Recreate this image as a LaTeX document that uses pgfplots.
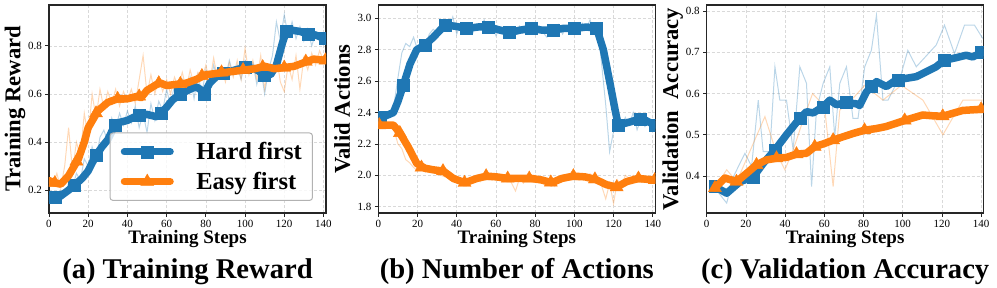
\documentclass[border=0pt]{standalone}
\usepackage{fontspec}
\setmainfont{Liberation Serif}
\usepackage{pgfplots}
\pgfplotsset{compat=1.18}
\definecolor{tblue}{HTML}{1F77B4}
\definecolor{torange}{HTML}{FF7F0E}
\pgfplotsset{
 myax/.style={
  width=277pt, height=208pt, scale only axis,
  anchor=south west,
  xmin=0, xmax=141.3,
  xtick={0,20,...,140},
  axis line style={black!85, line width=1.1pt},
  tick align=outside, major tick length=3.5pt,
  tick style={black!85, line width=0.8pt},
  xtick pos=left, ytick pos=left,
  grid=major, major grid style={densely dashed, black!15, line width=0.6pt},
  ticklabel style={font=\fontsize{11}{11}\selectfont},
  /pgf/number format/assume math mode=true,
  yticklabel style={/pgf/number format/.cd, fixed, fixed zerofill, precision=1},
  xlabel={Training Steps},
  xlabel style={font=\bfseries\fontsize{19}{19}\selectfont, at={(axis description cs:0.5,-0.149)}, anchor=base},
  ylabel style={font=\bfseries\fontsize{22.6}{22.6}\selectfont, at={(axis description cs:-0.103,0.5)}, anchor=base},
  clip marker paths=true,
 },
 raw/.style={line width=1pt, opacity=0.3, no marks},
 smo/.style={line width=7.5pt, line join=round, line cap=round, no marks},
 bmk/.style={only marks, mark=square*, mark size=6pt, tblue, mark options={line width=0.4pt}},
 omk/.style={only marks, mark=triangle*, mark size=7.5pt, torange, mark options={line width=0.4pt}},
}
\begin{document}
\begin{tikzpicture}
\useasboundingbox (0,0) rectangle (997pt,-287pt);
% ---------------- (a) ----------------
\begin{axis}[myax, name=a, at={(49pt,-213pt)},
  ymin=0.105, ymax=0.97, ytick={0.2,0.4,0.6,0.8},
  ylabel={Training Reward},
  legend style={at={(rel axis cs:0.953,0.058)}, anchor=south east, draw=black!30, line width=1pt, rounded corners=3pt, fill=white, fill opacity=0.8, draw opacity=1, text opacity=1, font=\bfseries\fontsize{24.5}{24.5}\selectfont, nodes={inner sep=0pt}, inner xsep=10.75pt, inner ysep=9.5pt, column sep=22.5pt, row sep=11pt},
  legend cell align=left,
  legend image code/.code={\draw[mark repeat=2,mark phase=2,#1] plot coordinates {(0pt,0pt)(23pt,0pt)(46pt,0pt)};},
]
\addlegendimage{tblue, line width=7pt, line cap=round, mark=square*, mark size=6pt, mark options={line width=0.4pt, fill=tblue, draw=tblue, fill opacity=1}}
\addlegendentry{Hard first}
\addlegendimage{torange, line width=7pt, line cap=round, mark=triangle*, mark size=7.5pt, mark options={line width=0.4pt, fill=torange, draw=torange, fill opacity=1}}
\addlegendentry{Easy first}
\addplot[raw, tblue, forget plot] coordinates {(0,0.16)(2,0.19)(4,0.15)(6,0.20)(8,0.18)(10,0.23)(12,0.21)(14,0.27)(16,0.24)(18,0.33)(20,0.30)(22,0.38)(24,0.33)(26,0.42)(28,0.45)(30,0.40)(32,0.50)(34,0.46)(36,0.52)(38,0.47)(40,0.53)(42,0.48)(44,0.55)(46,0.46)(48,0.52)(50,0.44)(52,0.56)(54,0.49)(56,0.57)(58,0.53)(60,0.62)(62,0.55)(64,0.64)(66,0.58)(68,0.66)(70,0.61)(72,0.67)(74,0.58)(76,0.68)(78,0.60)(80,0.70)(82,0.63)(84,0.72)(86,0.66)(88,0.71)(90,0.67)(92,0.74)(94,0.68)(96,0.72)(98,0.66)(100,0.74)(102,0.69)(104,0.73)(106,0.64)(108,0.71)(110,0.60)(112,0.70)(114,0.76)(116,0.90)(118,0.82)(120,0.93)(122,0.84)(124,0.90)(126,0.83)(128,0.88)(130,0.82)(132,0.87)(134,0.80)(136,0.85)(138,0.82)(140,0.84)};
\addplot[raw, torange, forget plot] coordinates {(0,0.25)(2,0.22)(4,0.27)(6,0.21)(8,0.30)(10,0.46)(12,0.28)(14,0.40)(16,0.34)(18,0.52)(20,0.42)(22,0.60)(24,0.50)(26,0.62)(28,0.54)(30,0.61)(32,0.56)(34,0.62)(36,0.55)(38,0.61)(40,0.57)(42,0.62)(44,0.56)(46,0.66)(48,0.76)(50,0.60)(52,0.68)(54,0.60)(56,0.67)(58,0.61)(60,0.66)(62,0.60)(64,0.67)(66,0.63)(68,0.69)(70,0.62)(72,0.70)(74,0.64)(76,0.69)(78,0.66)(80,0.72)(82,0.65)(84,0.75)(86,0.66)(88,0.71)(90,0.65)(92,0.73)(94,0.67)(96,0.74)(98,0.66)(100,0.79)(102,0.68)(104,0.74)(106,0.66)(108,0.76)(110,0.62)(112,0.72)(114,0.68)(116,0.76)(118,0.65)(120,0.61)(122,0.72)(124,0.66)(126,0.76)(128,0.62)(130,0.75)(132,0.70)(134,0.77)(136,0.72)(138,0.78)(140,0.74)};
\addplot[smo, tblue, forget plot] coordinates {(0,0.165)(5,0.17)(10,0.20)(13,0.22)(17,0.25)(20,0.28)(24,0.345)(27,0.38)(30,0.41)(33,0.46)(35,0.48)(40,0.49)(45,0.51)(50,0.515)(55,0.505)(57,0.52)(60,0.545)(63,0.575)(67,0.60)(72,0.62)(75,0.63)(77,0.62)(79,0.60)(82,0.645)(85,0.67)(89,0.685)(95,0.70)(100,0.71)(105,0.705)(108,0.69)(110,0.68)(113,0.68)(116,0.72)(119,0.81)(121,0.86)(124,0.865)(128,0.86)(132,0.85)(136,0.845)(141,0.83)};
\addplot[bmk, forget plot] coordinates {(3,0.17)(13,0.22)(24,0.345)(34,0.47)(46,0.51)(57,0.52)(67,0.60)(79,0.60)(89,0.685)(100,0.71)(110,0.68)(121,0.86)(132,0.85)(141,0.83)};
\addplot[smo, torange, forget plot] coordinates {(0,0.24)(3,0.23)(6,0.225)(10,0.26)(15,0.33)(18,0.40)(20,0.46)(25,0.53)(30,0.565)(35,0.58)(40,0.58)(45,0.59)(47,0.585)(50,0.615)(55,0.64)(57,0.645)(60,0.635)(65,0.64)(70,0.645)(75,0.66)(80,0.68)(85,0.685)(90,0.69)(95,0.695)(100,0.70)(105,0.705)(110,0.715)(115,0.705)(120,0.71)(125,0.715)(130,0.73)(135,0.745)(141,0.74)};
\addplot[omk, forget plot] coordinates {(3,0.23)(14,0.32)(24,0.52)(35,0.58)(46,0.59)(56,0.645)(67,0.642)(78,0.675)(88,0.69)(99,0.70)(109,0.712)(120,0.71)(131,0.735)(141,0.74)};
\end{axis}
\node[font=\bfseries\fontsize{28.6}{28.6}\selectfont, anchor=base] at ([yshift=-65pt]a.south) {(a) Training Reward};
% ---------------- (b) ----------------
\begin{axis}[myax, name=b, at={(378.3pt,-213pt)},
  ymin=1.76, ymax=3.085, ytick={1.8,2.0,...,3.0},
  ylabel={Valid Actions},
]
\addplot[raw, tblue] coordinates {(0,2.38)(2,2.36)(4,2.40)(6,2.37)(8,2.45)(10,2.62)(12,2.78)(14,2.84)(16,2.82)(18,2.88)(20,2.80)(22,2.86)(24,2.82)(26,2.90)(28,2.93)(30,2.91)(32,2.97)(34,2.99)(36,2.94)(38,3.01)(40,2.90)(42,2.97)(44,2.92)(46,2.96)(48,2.90)(50,2.96)(52,2.93)(54,2.99)(56,2.92)(58,2.96)(60,2.89)(62,2.94)(64,2.91)(66,2.88)(68,2.93)(70,2.90)(72,2.95)(74,2.91)(76,2.96)(78,2.94)(80,2.90)(82,2.95)(84,2.91)(86,2.88)(88,2.94)(90,2.92)(92,2.96)(94,2.90)(96,2.95)(98,2.93)(100,2.96)(102,2.91)(104,2.97)(106,2.93)(108,2.99)(110,2.92)(112,2.94)(114,2.70)(116,2.45)(118,2.15)(120,2.28)(122,2.33)(124,2.30)(126,2.37)(128,2.32)(130,2.40)(132,2.29)(134,2.36)(136,2.31)(138,2.34)(140,2.30)};
\addplot[raw, torange] coordinates {(0,2.33)(2,2.30)(4,2.34)(6,2.31)(8,2.29)(10,2.20)(12,2.17)(14,2.10)(16,2.08)(18,2.05)(20,2.03)(22,2.05)(24,2.02)(26,2.06)(28,2.03)(30,2.04)(32,2.00)(34,1.99)(36,2.02)(38,1.96)(40,1.98)(42,1.95)(44,1.97)(46,1.94)(48,1.97)(50,1.99)(52,1.96)(54,2.01)(56,1.98)(58,2.00)(60,1.97)(62,2.00)(64,1.96)(66,1.99)(68,1.95)(70,1.90)(72,1.98)(74,1.95)(76,1.99)(78,1.97)(80,2.00)(82,1.96)(84,1.99)(86,1.95)(88,1.97)(90,1.93)(92,1.98)(94,1.96)(96,2.00)(98,1.98)(100,2.01)(102,1.97)(104,2.00)(106,1.98)(108,2.01)(110,1.96)(112,1.99)(114,1.93)(116,1.85)(118,1.95)(120,1.82)(122,1.97)(124,1.93)(126,2.00)(128,1.98)(130,2.00)(132,1.96)(134,1.99)(136,1.97)(138,1.99)(140,1.96)};
\addplot[smo, tblue] coordinates {(0,2.384)(1,2.37)(4,2.38)(7.7,2.40)(10,2.47)(12.8,2.575)(16.2,2.71)(19.6,2.80)(23.8,2.83)(28.1,2.88)(34,2.957)(39.1,2.95)(45.1,2.936)(51,2.945)(56.1,2.945)(62.1,2.925)(67.2,2.91)(72.3,2.925)(78.3,2.936)(83.4,2.925)(89.3,2.925)(94.4,2.936)(100.4,2.936)(106.3,2.945)(111.4,2.936)(114.8,2.80)(118.2,2.586)(120.8,2.416)(122.4,2.32)(128.4,2.34)(134.4,2.363)(141,2.32)};
\addplot[bmk] coordinates {(1,2.37)(12.8,2.575)(23.8,2.83)(34,2.957)(45,2.936)(56,2.945)(67,2.91)(78,2.936)(89,2.925)(100,2.936)(111,2.936)(122.4,2.32)(133.5,2.36)(141,2.32)};
\addplot[smo, torange] coordinates {(0,2.32)(7.7,2.32)(11.1,2.268)(15.3,2.18)(19.6,2.076)(23.8,2.045)(28.1,2.035)(33.2,2.027)(38.3,1.98)(44.2,1.953)(50.2,1.98)(55.3,1.995)(60.4,1.99)(66.3,1.98)(72.3,1.98)(78.3,1.98)(83.4,1.97)(88.5,1.953)(93.6,1.98)(99.5,1.995)(105.5,1.99)(110.6,1.975)(116.5,1.94)(121.6,1.925)(126.7,1.96)(132.7,1.98)(141,1.97)};
\addplot[omk] coordinates {(0.5,2.32)(11,2.27)(22,2.05)(33,2.027)(44,1.953)(55,1.995)(66,1.98)(77,1.98)(88,1.955)(99.5,1.995)(110.5,1.975)(121.6,1.925)(132.7,1.98)(141,1.97)};
\end{axis}
\node[font=\bfseries\fontsize{28.6}{28.6}\selectfont, anchor=base] at ([yshift=-65pt]b.south) {(b) Number of Actions};
% ---------------- (c) ----------------
\begin{axis}[myax, name=c, at={(706.7pt,-213pt)},
  ymin=0.31, ymax=0.815, ytick={0.4,0.5,...,0.8},
  ylabel={Validation\ \ Accuracy},
]
\addplot[raw, tblue] coordinates {(3.4,0.375)(10.2,0.334)(13.6,0.398)(19.5,0.455)(22.9,0.423)(26.3,0.584)(28.8,0.459)(32.2,0.459)(34.8,0.665)(37.3,0.584)(40.7,0.584)(44.1,0.463)(47.5,0.665)(50.9,0.625)(53.5,0.374)(56,0.56)(59.4,0.625)(62.8,0.665)(65.3,0.495)(67.9,0.625)(71.3,0.665)(74.6,0.54)(77.2,0.54)(80.6,0.665)(84,0.705)(86.6,0.79)(89.9,0.584)(92.5,0.584)(99.3,0.649)(102.6,0.705)(106.9,0.665)(117.1,0.718)(121.3,0.766)(126.4,0.697)(131.5,0.766)(136.6,0.766)(140.8,0.734)};
\addplot[raw, torange] coordinates {(3.4,0.366)(10.2,0.415)(15.3,0.386)(29.7,0.544)(35.6,0.455)(39.9,0.415)(44.1,0.463)(49.5,0.54)(54,0.60)(58,0.58)(60.5,0.55)(64.5,0.374)(67.9,0.56)(73,0.58)(80.6,0.62)(89.9,0.584)(99.3,0.62)(110.3,0.584)(120.5,0.5)(130.7,0.584)(140.8,0.584)};
\addplot[smo, tblue] coordinates {(4.2,0.374)(10.2,0.358)(17,0.386)(23.8,0.398)(28.9,0.431)(34.8,0.463)(40.7,0.50)(47.5,0.54)(50.9,0.556)(54.3,0.553)(59.4,0.568)(62.8,0.584)(66.2,0.573)(71.3,0.578)(76.4,0.575)(78,0.571)(81.5,0.604)(86.6,0.629)(91.6,0.617)(96.7,0.633)(101.8,0.637)(106.9,0.641)(112,0.653)(117,0.665)(121.3,0.681)(127.2,0.687)(132.3,0.693)(135.7,0.689)(140.5,0.70)};
\addplot[bmk] coordinates {(4.5,0.374)(23.8,0.398)(34.8,0.463)(47.5,0.54)(59.4,0.568)(71.3,0.578)(84,0.617)(97.6,0.633)(121.3,0.681)(140,0.70)};
\addplot[smo, torange] coordinates {(4.2,0.371)(9.3,0.395)(15.2,0.386)(20.3,0.406)(25.4,0.427)(30.5,0.439)(35.6,0.443)(40.7,0.445)(45.8,0.453)(50.9,0.455)(55.1,0.471)(60.2,0.479)(64.5,0.487)(69.5,0.495)(74.6,0.503)(80.5,0.511)(86.5,0.515)(91.6,0.52)(96.7,0.528)(101.8,0.536)(110.2,0.548)(115.3,0.546)(120.4,0.545)(125.5,0.552)(130.6,0.559)(140.5,0.562)};
\addplot[omk] coordinates {(4.2,0.371)(15.2,0.386)(25.4,0.427)(35.6,0.443)(45.8,0.453)(55.1,0.471)(64.5,0.487)(80.5,0.511)(101,0.535)(120.4,0.545)(140,0.562)};
\end{axis}
\node[font=\bfseries\fontsize{28.6}{28.6}\selectfont, anchor=base] at ([yshift=-65pt]c.south) {(c) Validation Accuracy};
\end{tikzpicture}
\end{document}
